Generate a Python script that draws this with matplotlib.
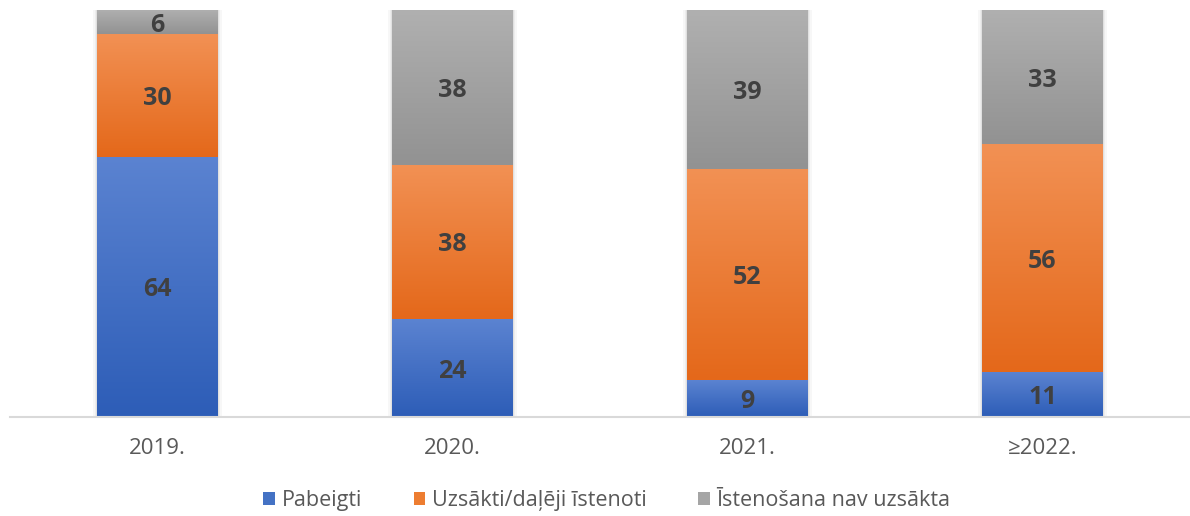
import matplotlib
matplotlib.use('Agg')
import matplotlib.pyplot as plt
import numpy as np
from matplotlib.colors import LinearSegmentedColormap
from matplotlib.patches import Rectangle

years = ['2019.', '2020.', '2021.', '≥2022.']
pabeigti = [64, 24, 9, 11]
uzsakti = [30, 38, 52, 56]
nav_uzsakta = [6, 38, 39, 33]

series = [
    ('Pabeigti', pabeigti, '#5b83d1', '#2d5db7', '#4472c4'),
    ('Uzsākti/daļēji īstenoti', uzsakti, '#f29154', '#e4681a', '#ed7d31'),
    ('Īstenošana nav uzsākta', nav_uzsakta, '#b0b0b0', '#929292', '#a5a5a5'),
]

plt.rcParams['font.family'] = ['Open Sans', 'DejaVu Sans']

fig = plt.figure(figsize=(11.9, 5.16), dpi=100)
ax = fig.add_axes([0.0084, 0.1919, 0.9916, 0.7887])

width = 0.41
x = np.arange(len(years))
grad = np.linspace(0, 1, 256).reshape(-1, 1)

bottoms = np.zeros(len(years))
for name, vals, top_c, bot_c, leg_c in series:
    cmap = LinearSegmentedColormap.from_list(name, [top_c, bot_c])
    for i, v in enumerate(vals):
        b = bottoms[i]
        # soft shadow
        for k, a in enumerate([0.05, 0.04, 0.03]):
            pad = 0.004 * (k + 1)
            ax.add_patch(Rectangle((x[i] - width / 2 - pad, b), width + 2 * pad, v,
                                   facecolor='black', alpha=a, edgecolor='none', zorder=1))
        ax.imshow(grad, cmap=cmap, aspect='auto', zorder=2,
                  extent=[x[i] - width / 2, x[i] + width / 2, b, b + v])
        ax.text(x[i], b + v / 2, str(v), ha='center', va='center_baseline',
                fontsize=18, fontweight='bold', color='#404040', zorder=3)
    bottoms += np.array(vals)
    ax.bar(0, 0, color=leg_c, label=name)

ax.set_xlim(-0.5, 3.5)
ax.set_ylim(0, 100)
ax.set_yticks([])
ax.set_xticks(x)
ax.set_xticklabels(years, fontsize=16, color='#595959')
ax.tick_params(axis='x', length=0, pad=15)
for s in ['top', 'left', 'right']:
    ax.spines[s].set_visible(False)
ax.spines['bottom'].set_color('#d9d9d9')
ax.spines['bottom'].set_linewidth(1.5)
ax.spines['bottom'].set_zorder(4)

fig.legend(loc='center', bbox_to_anchor=(0.51, 0.03), ncol=3, frameon=False,
           fontsize=15.5, handlelength=0.55, handleheight=0.55, handletextpad=0.3,
           columnspacing=2.4, labelcolor='#595959')

fig.savefig('out.png', dpi=100)
